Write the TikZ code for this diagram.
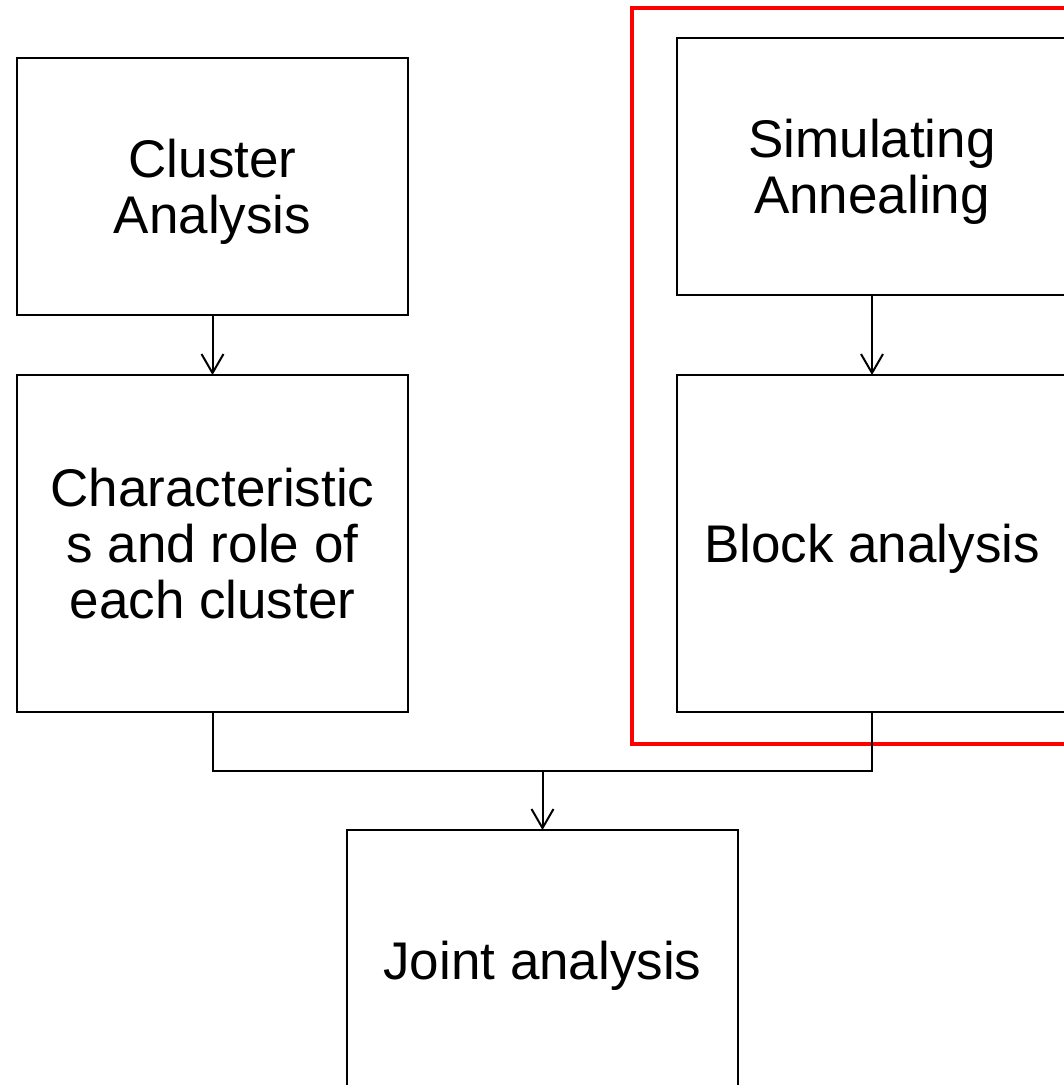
\documentclass[tikz,border=0pt]{standalone}
\usepackage{fontspec}
\setmainfont{Liberation Sans}
\usetikzlibrary{positioning,arrows.meta}

\tikzset{
  box/.style={draw, line width=2pt, minimum width=391pt, align=center, inner sep=0pt,
    outer sep=0pt, text depth=0pt, font=\fontsize{53}{56}\selectfont},
  link/.style={line width=2pt, -{Straight Barb[length=19pt,width=22pt,line width=2pt]}}
}

\begin{document}
\begin{tikzpicture}[x=1pt,y=-1pt]
        \clip (0,0) rectangle (1064,1085);

        \node[box, minimum height=257pt] (cluster) at (212.5,186.5) {Cluster\\Analysis};
        \node[box, minimum height=337pt, below=60pt of cluster] (charac) {Characteristic\\s and role of\\each cluster};
        \node[box, minimum height=257pt] (anneal) at (872,166.5) {Simulating\\Annealing};
        \node[box, minimum height=337pt, below=80pt of anneal] (block) {Block analysis};
        \node[box, minimum height=260pt] (joint) at (542.5,960) {Joint analysis};
        \coordinate (merge) at (542.5,771);

        % red frame round the right column
        \draw[red, line width=4pt] (632,8) rectangle (1100,744);

        \draw[link] (cluster) -- (charac);
        \draw[link] (anneal) -- (block);
        \draw[line width=2pt] (charac.south) |- (merge) -| (block.south);
        \draw[link] (merge) -- (joint);
\end{tikzpicture}
\end{document}
